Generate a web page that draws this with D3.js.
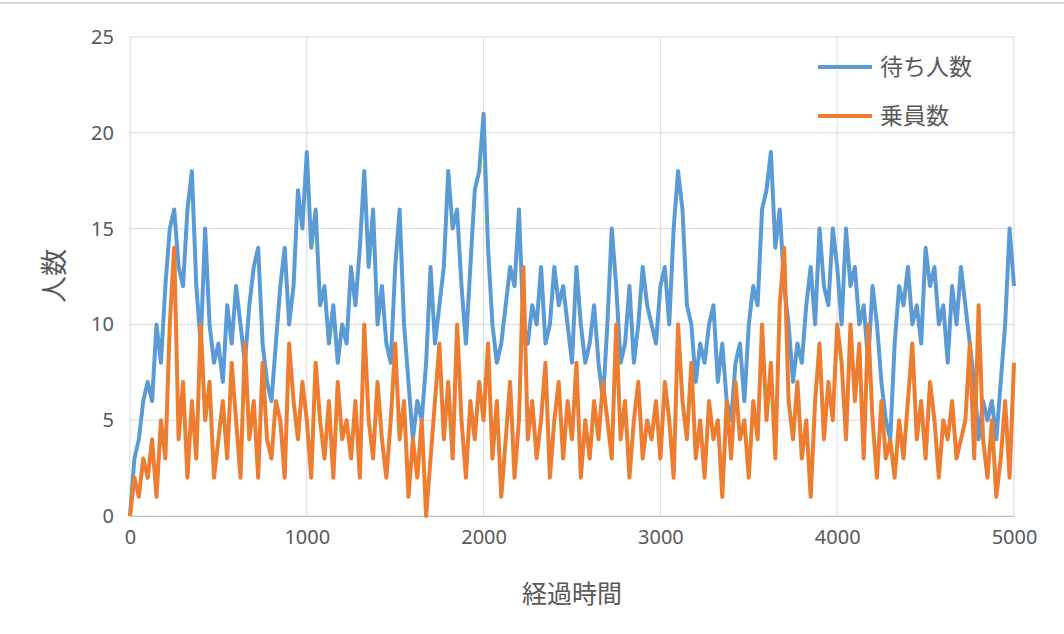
<!DOCTYPE html>
<html lang="ja">
<head>
<meta charset="UTF-8">
<script src="https://d3js.org/d3.v7.min.js"></script>
<style>
  body { margin: 0; background: #fff; font-family: "Noto Sans CJK JP", "Noto Sans", sans-serif; }
  .tick text { fill: #595959; font-size: 20px; font-family: "Noto Sans", sans-serif; }
</style>
</head>
<body>
<svg id="chart" width="1064" height="634"></svg>
<script>
// sampled every 25 time units, 0..5000
const step = 25;
const waiting = [0,3,4,6,7,6,10,8,12,15,16,13,12,16,18,12,9,15,10,8,9,7,11,9,12,10,8,11,13,14,9,7,6,9,12,14,10,12,17,15,
  19,14,16,11,12,9,11,8,10,9,13,11,14,18,13,16,10,12,9,8,13,16,10,7,4,6,5,8,13,9,11,13,18,15,16,12,9,13,17,18,
  21,14,10,8,9,11,13,12,16,10,9,11,10,13,9,10,13,11,12,10,8,13,10,8,9,11,8,6,10,15,12,8,9,12,8,10,13,11,10,9,
  12,13,10,15,18,16,11,10,7,9,8,10,11,7,9,6,5,8,9,6,10,12,11,16,17,19,14,16,12,10,7,9,8,11,13,10,15,12,11,15,
  13,10,15,12,13,10,11,8,12,10,7,5,4,9,12,11,13,10,11,9,14,12,13,10,11,8,12,10,13,11,9,7,4,6,5,6,4,7,10,15,12];
const crew = [0,2,1,3,2,4,1,5,3,10,14,4,7,2,6,3,10,5,7,2,4,6,3,8,5,2,9,4,6,2,8,4,3,6,5,2,9,6,4,7,
  5,2,8,5,3,6,2,7,4,5,3,6,2,10,5,3,7,4,2,5,9,4,6,1,4,2,5,0,3,6,9,4,7,3,10,5,2,6,4,7,
  5,9,3,6,1,4,7,2,5,13,4,6,3,5,8,2,5,7,3,6,4,8,2,5,3,6,4,7,5,3,10,4,6,2,5,7,3,5,4,6,
  3,7,5,2,10,6,4,8,3,5,2,6,4,5,1,6,3,7,4,5,2,6,4,10,5,8,3,11,14,6,4,7,3,5,1,6,9,4,7,5,
  10,8,4,10,6,9,3,10,5,2,6,3,4,2,5,3,6,9,4,6,3,7,5,2,5,4,6,3,4,5,9,3,11,4,2,5,1,3,6,2,8];
const yTicks = [0,5,10,15,20,25];
const xTicks = [0,1000,2000,3000,4000,5000];
const seriesNames = ["待ち人数", "乗員数"];
const colors = ["#5b9bd5", "#ed7d31"];

const svg = d3.select("#chart");
svg.append("line").attr("x1", 0).attr("x2", 1064).attr("y1", 3).attr("y2", 3)
  .attr("stroke", "#d9d9d9").attr("stroke-width", 2);

const x = d3.scaleLinear().domain([0, 5000]).range([130, 1014]);
const y = d3.scaleLinear().domain([0, 25]).range([516, 37]);

svg.append("g").selectAll("line").data(yTicks).enter().append("line")
  .attr("x1", 130).attr("x2", 1014).attr("y1", d => y(d)).attr("y2", d => y(d))
  .attr("stroke", "#d9d9d9");
svg.append("g").selectAll("line").data(xTicks).enter().append("line")
  .attr("y1", 37).attr("y2", 516).attr("x1", d => x(d)).attr("x2", d => x(d))
  .attr("stroke", "#d9d9d9");

svg.append("g").attr("transform", "translate(130,0)")
  .call(d3.axisLeft(y).tickValues(yTicks).tickSize(0).tickPadding(16))
  .call(g => g.select(".domain").remove());
svg.append("g").attr("transform", "translate(0,516)")
  .call(d3.axisBottom(x).tickValues(xTicks).tickFormat(d3.format("d")).tickSize(0).tickPadding(14))
  .call(g => g.select(".domain").attr("stroke", "#bfbfbf"));

const line = d3.line().x((d, i) => x(i * step)).y(d => y(d));
[waiting, crew].forEach((s, k) => {
  svg.append("path").datum(s).attr("d", line).attr("fill", "none")
    .attr("stroke", colors[k]).attr("stroke-width", 4).attr("stroke-linejoin", "round");
});

svg.append("text").attr("transform", "translate(64,276) rotate(-90)")
  .attr("text-anchor", "middle").attr("fill", "#595959").style("font-size", "27px").text("人数");
svg.append("text").attr("x", 572).attr("y", 603).attr("text-anchor", "middle")
  .attr("fill", "#595959").style("font-size", "25px").text("経過時間");

seriesNames.forEach((n, k) => {
  const ly = 67 + k * 49;
  svg.append("line").attr("x1", 818).attr("x2", 872).attr("y1", ly).attr("y2", ly)
    .attr("stroke", colors[k]).attr("stroke-width", 4);
  svg.append("text").attr("x", 880).attr("y", ly + 8).attr("fill", "#595959")
    .style("font-size", "23px").text(n);
});
</script>
</body>
</html>
